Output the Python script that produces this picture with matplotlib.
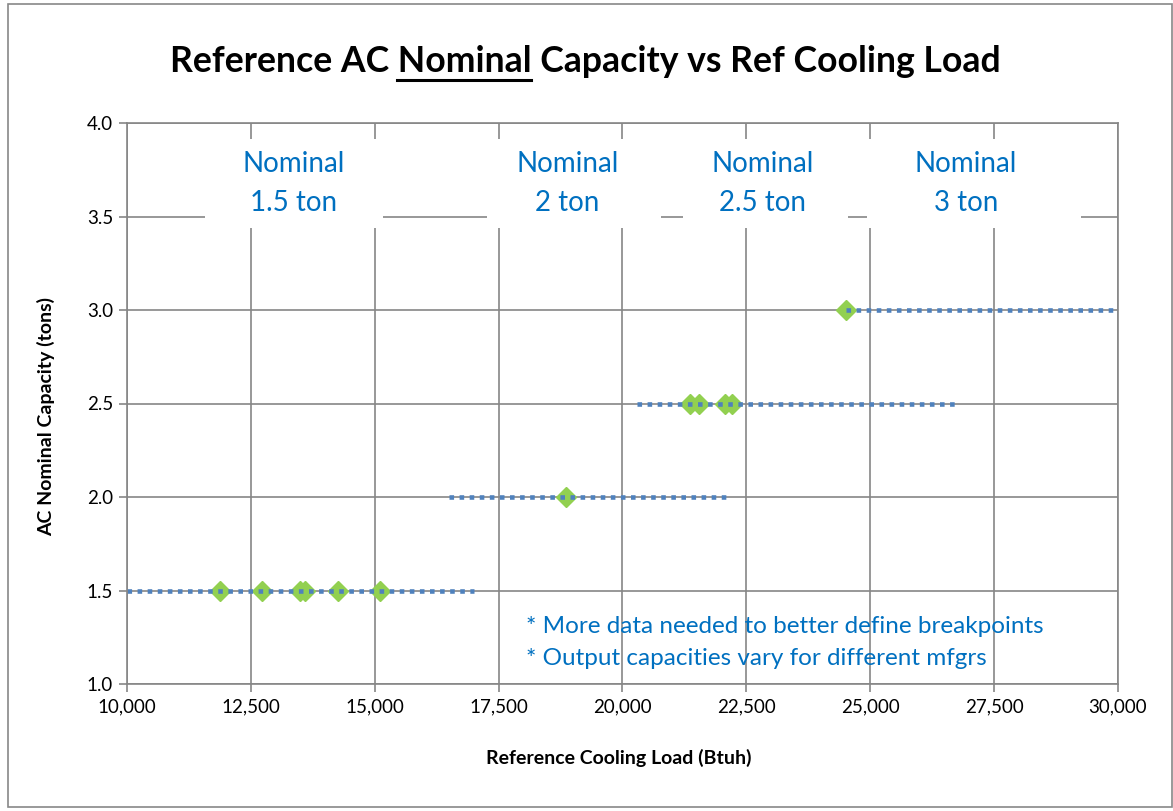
import matplotlib.pyplot as plt
from matplotlib.patches import Rectangle
from matplotlib.ticker import FuncFormatter, MultipleLocator

plt.rcParams['font.family'] = ['Lato', 'DejaVu Sans']

# Data
load_15 = [11875, 12720, 13490, 13590, 14250, 15100]
cap_15 = [1.5, 1.5, 1.5, 1.5, 1.5, 1.5]
load_20 = [18850]
cap_20 = [2.0]
load_25 = [21370, 21550, 22075, 22215]
cap_25 = [2.5, 2.5, 2.5, 2.5]
load_30 = [24520]
cap_30 = [3.0]

# dotted capacity bands (start, end, capacity)
band_start = [10000, 16500, 20300, 24520]
band_end = [17000, 22100, 26750, 30000]
band_cap = [1.5, 2.0, 2.5, 3.0]

label_text = ["Nominal\n1.5 ton", "Nominal\n2 ton", "Nominal\n2.5 ton", "Nominal\n3 ton"]
label_x = [13370, 18890, 22830, 26930]

W, H = 1173, 811
fig = plt.figure(figsize=(W / 100, H / 100), dpi=100)
ax = fig.add_axes([127 / W, 1 - 684 / H, (1118 - 127) / W, (684 - 123) / H])

grid_col = "#868686"
blue_txt = "#0070C0"

ax.set_xlim(10000, 30000)
ax.set_ylim(1.0, 4.0)
ax.xaxis.set_major_locator(MultipleLocator(2500))
ax.yaxis.set_major_locator(MultipleLocator(0.5))
ax.xaxis.set_major_formatter(FuncFormatter(lambda v, p: f"{v:,.0f}"))
ax.yaxis.set_major_formatter(FuncFormatter(lambda v, p: f"{v:.1f}"))
ax.set_axisbelow(True)
ax.grid(True, color=grid_col, linewidth=1.2, zorder=0.5)
for s in ax.spines.values():
    s.set_color(grid_col)
    s.set_linewidth(1.2)
ax.tick_params(axis="both", direction="out", length=6, color=grid_col,
               width=1.2, labelsize=13.5, pad=4)

# white boxes behind the labels hide the gridlines
box_x0 = [11570, 17260, 21230, 24940]
box_x1 = [15160, 20770, 24560, 29250]
for x0, x1 in zip(box_x0, box_x1):
    ax.add_patch(Rectangle((x0, 3.44), x1 - x0, 3.915 - 3.44, facecolor="white",
                           edgecolor="none", zorder=1, clip_on=True))

for lx, lt in zip(label_x, label_text):
    ax.text(lx, 3.675, lt, ha="center", va="center", color=blue_txt,
            fontsize=20, linespacing=1.6, zorder=3)

green = "#92D050"
for xs, ys in [(load_15, cap_15), (load_20, cap_20), (load_25, cap_25), (load_30, cap_30)]:
    ax.plot(xs, ys, linestyle="none", marker="D", markersize=10,
            color=green, markeredgecolor=green, zorder=2)

for x0, x1, c in zip(band_start, band_end, band_cap):
    ax.plot([x0, x1], [c, c], color="#4F81BD", linewidth=3.3,
            linestyle=(0, (1.0, 1.2)), dash_capstyle="butt", zorder=2.5)

ax.text(0.403, 0.103, "* More data needed to better define breakpoints",
        transform=ax.transAxes, color=blue_txt, fontsize=17.5, va="center")
ax.text(0.403, 0.046, "* Output capacities vary for different mfgrs",
        transform=ax.transAxes, color=blue_txt, fontsize=17.5, va="center")

fig.text(619 / W, 1 - 758 / H, "Reference Cooling Load (Btuh)", fontsize=14,
         fontweight="bold", ha="center", va="center")
fig.text(46 / W, 1 - 416 / H, "AC Nominal Capacity (tons)", fontsize=14,
         fontweight="bold", ha="center", va="center", rotation=90)

# title with underlined "Nominal"
title = "Reference AC Nominal Capacity vs Ref Cooling Load"
fs_title = 25.7
t = fig.text(585 / W, 1 - 62 / H, title, ha="center", va="center",
             fontsize=fs_title, fontweight="bold")
fig.canvas.draw()
r = fig.canvas.get_renderer()
bb = t.get_window_extent(r)
probe1 = fig.text(0, 0, "Reference AC Nominal", fontsize=fs_title, fontweight="bold")
probe2 = fig.text(0, 0, "Nominal", fontsize=fs_title, fontweight="bold")
w1 = probe1.get_window_extent(r).width
w2 = probe2.get_window_extent(r).width
probe1.remove()
probe2.remove()
ux1 = bb.x0 + w1
ux0 = ux1 - w2
uy = bb.y0 - 1
fig.add_artist(plt.Line2D([ux0 / W, ux1 / W], [uy / H, uy / H],
                          color="black", linewidth=2.2))

# chart area border
fig.add_artist(Rectangle((8 / W, 4 / H), (1172 - 8) / W, (807 - 4) / H,
                         fill=False, edgecolor="#888888", linewidth=1.2,
                         transform=fig.transFigure))

fig.savefig("out.png", dpi=100)
